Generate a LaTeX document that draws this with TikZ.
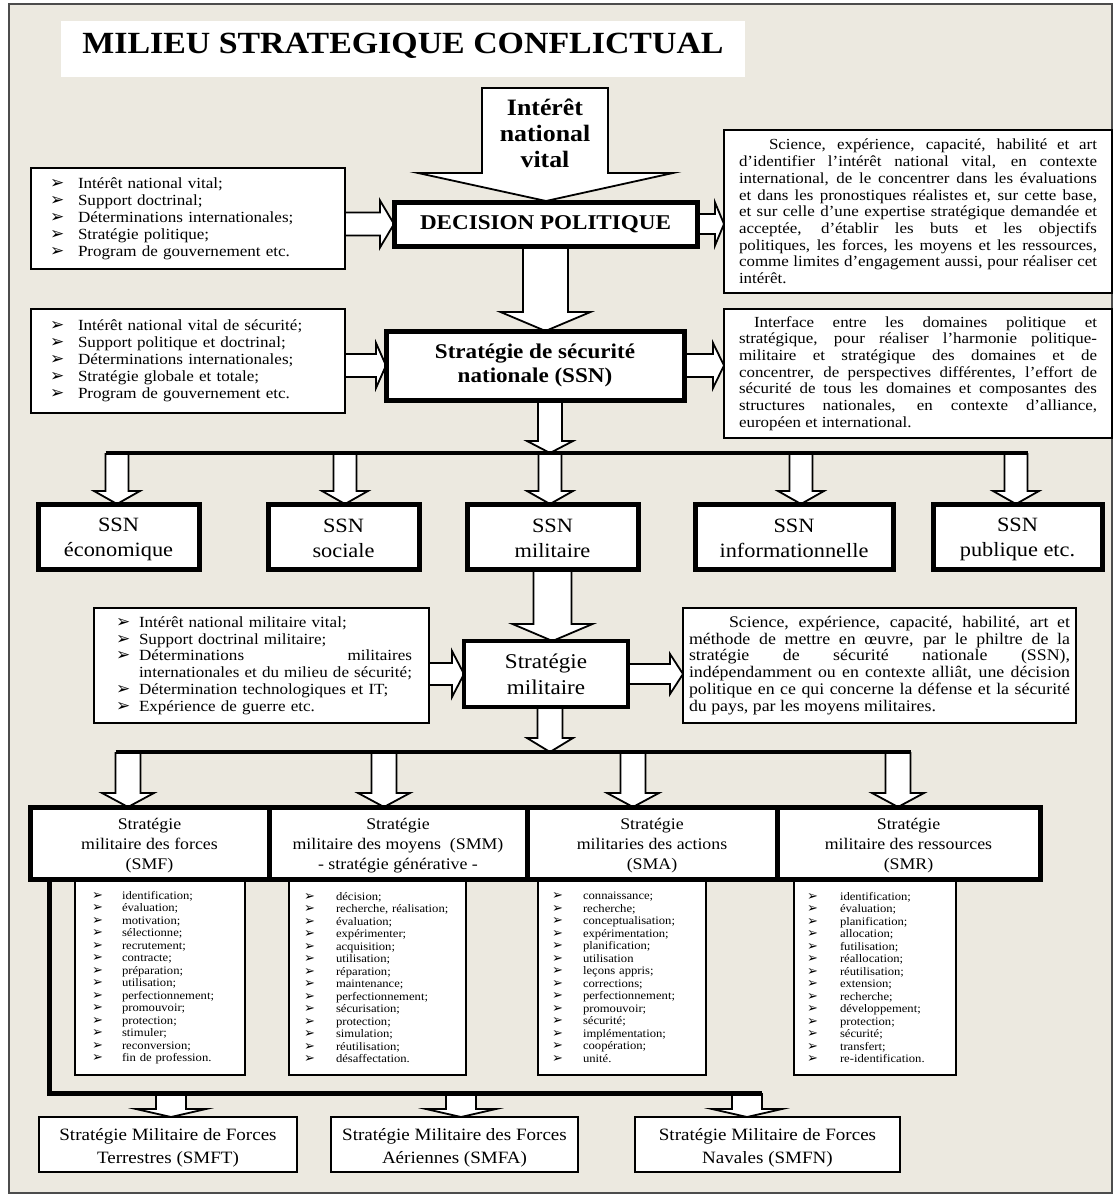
\documentclass[tikz,border=0pt]{standalone}
\usepackage{fontspec}
\setmainfont{Liberation Serif}[FakeStretch=1.1]
\newfontfamily\bulfont{DejaVu Sans}
\usetikzlibrary{calc}
\definecolor{bg}{RGB}{236,233,224}
\newcommand\fs[2]{\fontsize{#1}{#2}\selectfont}
\newcommand\bulsz{17}
\newcommand\li[3]{\hspace*{#1pt}\makebox[#2pt][l]{\bulfont\fontsize{\bulsz}{\bulsz}\selectfont ➢}#3}
\newcommand\st[2]{\rule[-#2pt]{0pt}{\numexpr#1+#2\relax pt}}
\newcommand\darr[5]{\draw[barrow] let \p1=(#1), \p2=(#2) in (\x2-#3pt,\y1) -- (\x2-#3pt,\y2+#5pt) -- (\x2-#4pt,\y2+#5pt) -- (\x2,\y2) -- (\x2+#4pt,\y2+#5pt) -- (\x2+#3pt,\y2+#5pt) -- (\x2+#3pt,\y1);}
\newcommand\rarr[5]{\draw[barrow] let \p1=(#1), \p2=(#2) in (\x1,\y2+#3pt) -- (\x2-#5pt,\y2+#3pt) -- (\x2-#5pt,\y2+#4pt) -- (\x2,\y2) -- (\x2-#5pt,\y2-#4pt) -- (\x2-#5pt,\y2-#3pt) -- (\x1,\y2-#3pt);}
\pgfdeclarelayer{bgl}\pgfdeclarelayer{arl}\pgfsetlayers{bgl,arl,main}
\tikzset{
 sz/.style 2 args={minimum width=#1pt, minimum height=#2pt},
 tbox/.style={draw=black, line width=1.5pt, fill=white, anchor=north west, inner sep=0pt, outer sep=0pt},
 kbox/.style={draw=black, line width=5pt, fill=white, anchor=north west, inner sep=0pt, outer sep=0pt, align=center},
 barrow/.style={draw=black, line width=1.8pt, fill=white, line join=miter},
 bus/.style={draw=black, line width=4pt},
 smalllist/.style={tbox, line width=1.2pt, sz={#1}{195}, align=left, font={\fs{11.5}{12.5}\renewcommand\bulsz{13}}},
 ssnbox/.style={kbox, sz={#1}{65}, font=\fs{20.3}{23}},
 hdbox/.style={kbox, sz={#1}{72}, font=\fs{16.2}{20}},
 botbox/.style={tbox, line width=2pt, sz={#1}{55}, align=center, font=\fs{17.3}{21}},
}
\begin{document}
\begin{tikzpicture}[x=1pt,y=-1pt]
\useasboundingbox (0,0) rectangle (1115,1196);
\begin{pgfonlayer}{bgl}
\fill[white] (0,0) rectangle (1115,1196);
\draw[line width=1.2pt, draw=black!70, fill=bg] (9,4) rectangle (1112,1193);
\end{pgfonlayer}

% title
\node[fill=white, anchor=north west, sz={684}{56}, inner sep=0pt, outer sep=0pt] (titlebox) at (61,21) {};
\node[anchor=base, font=\bfseries\fs{30.8}{34}] (title) at (403,54) {MILIEU STRATEGIQUE CONFLICTUAL};

% level 1
\node[font=\bfseries\fs{23.5}{26}, align=center, inner sep=0pt] (interet) at (545,133) {Intérêt\\national\\vital};
\node[kbox, sz={303}{44}, font=\bfseries\fs{21}{24}] (dec) at (394,202) {DECISION POLITIQUE};
\node[tbox, sz={314}{101}, text width=276pt, inner xsep=19pt, align=left, font=\fs{15.5}{17}] (l1) at (31,168) {%
\li{0}{28}{Intérêt national vital;}\\
\li{0}{28}{Support doctrinal;}\\
\li{0}{28}{Déterminations internationales;}\\
\li{0}{28}{Stratégie politique;}\\
\li{0}{28}{Program de gouvernement etc.}};
\node[tbox, sz={388}{163}, text width=358pt, inner xsep=15pt, align=justify, font=\fs{15.4}{16.7}] (rb1) at (724,130) {\tolerance=10000\hbadness=10000\noindent\hspace*{30pt}Science, expérience, capacité, habilité et art\linebreak
d’identifier l’intérêt national vital, en contexte\linebreak
international, de le concentrer dans les évaluations\linebreak
et dans les pronostiques réalistes et, sur cette base,\linebreak
et sur celle d’une expertise stratégique demandée et\linebreak
acceptée, d’établir les buts et les objectifs\linebreak
politiques, les forces, les moyens et les ressources,\linebreak
comme limites d’engagement aussi, pour réaliser cet\linebreak
intérêt.};

% level 2
\node[kbox, sz={298}{69}, font=\bfseries\fs{21}{24}] (ssn) at (386,331) {Stratégie de sécurité\\nationale (SSN)};
\node[tbox, sz={314}{104}, text width=276pt, inner xsep=19pt, align=left, font=\fs{15.5}{17}] (l2) at (31,309) {%
\li{0}{28}{Intérêt national vital de sécurité;}\\
\li{0}{28}{Support politique et doctrinal;}\\
\li{0}{28}{Déterminations internationales;}\\
\li{0}{28}{Stratégie globale et totale;}\\
\li{0}{28}{Program de gouvernement etc.}};
\node[tbox, sz={388}{129}, text width=358pt, inner xsep=15pt, align=justify, font=\fs{15.4}{16.7}] (rb2) at (724,309) {\tolerance=10000\hbadness=10000\noindent\hspace*{15pt}Interface entre les domaines politique et\linebreak
stratégique, pour réaliser l’harmonie politique-\linebreak
militaire et stratégique des domaines et de\linebreak
concentrer, de perspectives différentes, l’effort de\linebreak
sécurité de tous les domaines et composantes des\linebreak
structures nationales, en contexte d’alliance,\linebreak
européen et international.};

% SSN row
\node[ssnbox=161] (eco) at (38,504) {\st{20}{4}SSN\\économique\st{20}{4}};
\node[ssnbox=151] (soc) at (268,504) {\st{20}{4}SSN\\sociale\st{20}{4}};
\node[ssnbox=171] (mil) at (467,504) {\st{20}{4}SSN\\militaire\st{20}{4}};
\node[ssnbox=198] (inf) at (695,504) {\st{20}{4}SSN\\informationnelle\st{20}{4}};
\node[ssnbox=169] (pub) at (933,504) {\st{20}{4}SSN\\publique etc.\st{20}{4}};

% level 3
\node[kbox, line width=4pt, sz={164}{66}, font=\fs{21}{23}] (strat) at (464,641) {\st{20}{5}Stratégie\\militaire\st{20}{5}};
\node[tbox, sz={335}{115}, text width=301pt, inner xsep=17pt, align=left, font=\fs{15.5}{16.8}] (l3) at (94,608) {%
\li{5}{23}{Intérêt national militaire vital;}\\
\li{5}{23}{Support doctrinal militaire;}\\
\li{5}{23}{Déterminations\hfill militaires}\\
\hspace*{28pt}internationales et du milieu de sécurité;\\
\li{5}{23}{Détermination technologiques et IT;}\\
\li{5}{23}{Expérience de guerre etc.}};
\node[tbox, sz={393}{115}, text width=381pt, inner xsep=6pt, align=justify, font=\fs{16.2}{16.8}] (rb3) at (683,608) {\tolerance=10000\hbadness=10000\noindent\hspace*{40pt}Science, expérience, capacité, habilité, art et\linebreak
méthode de mettre en œuvre, par le philtre de la\linebreak
stratégie de sécurité nationale (SSN),\linebreak
indépendamment ou en contexte alliât, une décision\linebreak
politique en ce qui concerne la défense et la sécurité\linebreak
du pays, par les moyens militaires.};

% lists under headers
\node[smalllist=170, text width=136pt, inner xsep=17pt] (smfl) at (75,880) {%
\li{0}{30}{identification;}\\ \li{0}{30}{évaluation;}\\ \li{0}{30}{motivation;}\\ \li{0}{30}{sélectionne;}\\
\li{0}{30}{recrutement;}\\ \li{0}{30}{contracte;}\\ \li{0}{30}{préparation;}\\ \li{0}{30}{utilisation;}\\
\li{0}{30}{perfectionnement;}\\ \li{0}{30}{promouvoir;}\\ \li{0}{30}{protection;}\\ \li{0}{30}{stimuler;}\\
\li{0}{30}{reconversion;}\\ \li{0}{30}{fin de profession.}};
\node[smalllist=177, text width=147pt, inner xsep=15pt] (smml) at (289,880) {%
\li{0}{32}{décision;}\\ \li{0}{32}{recherche, réalisation;}\\ \li{0}{32}{évaluation;}\\ \li{0}{32}{expérimenter;}\\
\li{0}{32}{acquisition;}\\ \li{0}{32}{utilisation;}\\ \li{0}{32}{réparation;}\\ \li{0}{32}{maintenance;}\\
\li{0}{32}{perfectionnement;}\\ \li{0}{32}{sécurisation;}\\ \li{0}{32}{protection;}\\ \li{0}{32}{simulation;}\\
\li{0}{32}{réutilisation;}\\ \li{0}{32}{désaffectation.}};
\node[smalllist=168, text width=140pt, inner xsep=14pt] (smal) at (538,880) {%
\li{0}{31}{connaissance;}\\ \li{0}{31}{recherche;}\\ \li{0}{31}{conceptualisation;}\\ \li{0}{31}{expérimentation;}\\
\li{0}{31}{planification;}\\ \li{0}{31}{utilisation}\\ \li{0}{31}{leçons appris;}\\ \li{0}{31}{corrections;}\\
\li{0}{31}{perfectionnement;}\\ \li{0}{31}{promouvoir;}\\ \li{0}{31}{sécurité;}\\ \li{0}{31}{implémentation;}\\
\li{0}{31}{coopération;}\\ \li{0}{31}{unité.}};
\node[smalllist=162, text width=136pt, inner xsep=13pt] (smrl) at (794,880) {%
\li{0}{33}{identification;}\\ \li{0}{33}{évaluation;}\\ \li{0}{33}{planification;}\\ \li{0}{33}{allocation;}\\
\li{0}{33}{futilisation;}\\ \li{0}{33}{réallocation;}\\ \li{0}{33}{réutilisation;}\\ \li{0}{33}{extension;}\\
\li{0}{33}{recherche;}\\ \li{0}{33}{développement;}\\ \li{0}{33}{protection;}\\ \li{0}{33}{sécurité;}\\
\li{0}{33}{transfert;}\\ \li{0}{33}{re-identification.}};

% header row
\node[hdbox=239] (smf) at (30,807) {\st{16}{4}Stratégie\\militaire des forces\\(SMF)\st{16}{4}};
\node[hdbox=258] (smm) at (269,807) {\st{16}{4}Stratégie\\militaire des moyens~ (SMM)\\- stratégie générative -\st{16}{4}};
\node[hdbox=250] (sma) at (527,807) {\st{16}{4}Stratégie\\militaries des actions\\(SMA)\st{16}{4}};
\node[hdbox=263] (smr) at (777,807) {\st{16}{4}Stratégie\\militaire des ressources\\(SMR)\st{16}{4}};

% bottom row
\node[botbox=258] (smft) at (39,1117) {\st{18}{4}Stratégie Militaire de Forces\\Terrestres (SMFT)\st{18}{4}};
\node[botbox=247] (smfa) at (331,1117) {\st{18}{4}Stratégie Militaire des Forces\\Aériennes (SMFA)\st{18}{4}};
\node[botbox=265] (smfn) at (635,1117) {\st{18}{4}Stratégie Militaire de Forces\\Navales (SMFN)\st{18}{4}};

% bus coordinates
\coordinate (b1a) at (117,453); \coordinate (b1b) at (345,453); \coordinate (b1c) at (550,453);
\coordinate (b1d) at (801,453); \coordinate (b1e) at (1016,453);
\coordinate (b2a) at (128,752); \coordinate (b2b) at (384,752); \coordinate (b2m) at (550,752);
\coordinate (b2c) at (633,752); \coordinate (b2d) at (898,752);
\coordinate (b3v) at ($(smf.south west)+(19,0)$); \coordinate (b3c) at (49,1093);
\coordinate (b3a) at (171,1093); \coordinate (b3b) at (461,1093); \coordinate (b3d) at (747,1093);

\begin{pgfonlayer}{arl}
\draw[barrow] (482,88) -- (608,88) -- (608,173) -- (673,173) -- (546,201) -- (418,173) -- (482,173) -- cycle;
\rarr{l1.east}{dec.west}{11.5}{23.5}{14}
\rarr{dec.east}{rb1.west |- dec.east}{10}{21.5}{9}
\darr{dec.south}{dec.south |- ssn.north}{22.5}{45}{19}
\rarr{l2.east}{ssn.west}{11.5}{22.5}{10}
\rarr{ssn.east}{rb2.west |- ssn.east}{11.5}{22.5}{11}
\darr{ssn.south}{b1c}{12}{23}{12}
\darr{b1a}{b1a |- eco.north}{11.5}{23}{13}
\darr{b1b}{b1b |- soc.north}{11.5}{23}{13}
\darr{b1c}{b1c |- mil.north}{11.5}{23}{13}
\darr{b1d}{b1d |- inf.north}{11.5}{23}{13}
\darr{b1e}{b1e |- pub.north}{11.5}{23}{13}
\draw[bus] ($(b1a)+(-11.5,0)$) -- ($(b1e)+(11.5,0)$);
\darr{mil.south}{mil.south |- strat.north}{19}{40}{17}
\rarr{l3.east}{strat.west}{11}{23}{12}
\rarr{strat.east}{rb3.west |- strat.east}{10}{20}{13}
\darr{strat.south}{b2m}{12.5}{23}{14}
\darr{b2a}{b2a |- smf.north}{12.5}{26}{14}
\darr{b2b}{b2b |- smm.north}{12.5}{26}{14}
\darr{b2c}{b2c |- sma.north}{12.5}{26}{14}
\darr{b2d}{b2d |- smr.north}{12.5}{26}{14}
\draw[bus] ($(b2a)+(-12.5,0)$) -- ($(b2d)+(12.5,0)$);
\darr{b3a}{b3a |- smft.north}{15}{35}{8}
\darr{b3b}{b3b |- smfa.north}{15}{35}{8}
\darr{b3d}{b3d |- smfn.north}{15}{35}{8}
\draw[line width=5pt, line join=miter] (b3v) -- (b3c) -- ($(b3d)+(15,0)$);
\end{pgfonlayer}
\end{tikzpicture}
\end{document}
